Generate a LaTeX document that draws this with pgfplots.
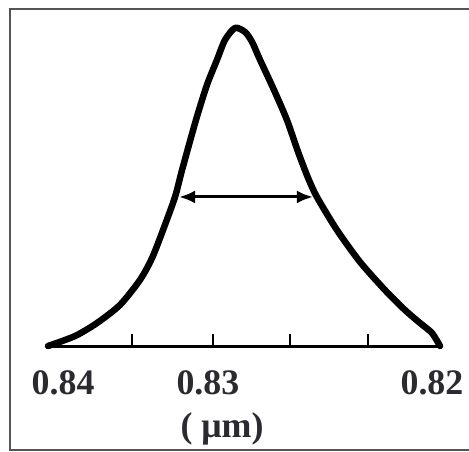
\documentclass[border=0pt]{standalone}
\usepackage{pgfplots}
\pgfplotsset{compat=1.18}
\usepackage{fontspec}
\setmainfont{Liberation Serif}
\usetikzlibrary{arrows.meta}
\definecolor{framegray}{HTML}{555555}
\definecolor{txt}{HTML}{2A2A30}
\begin{document}
\begin{tikzpicture}[x=1bp,y=1bp]
\useasboundingbox (0,0) rectangle (469,-452);
\draw[framegray, line width=2.5bp] (472,-9) -- (10,-9) -- (10,-450) -- (472,-450);
\begin{axis}[at={(48bp,-346bp)}, anchor=south west, scale only axis,
  width=392bp, height=326bp,
  xmin=0.82, xmax=0.84, x dir=reverse, ymin=0, ymax=1.025,
  axis x line=bottom, axis y line=none,
  axis line style={-, line width=3bp, black},
  xtick={0.83923,0.83184,0.82041}, xticklabels={0.84,0.83,0.82},
  major tick length=0pt,
  minor xtick={0.835714,0.831582,0.827653,0.823673},
  minor tick length=12bp, xtick align=inside,
  minor tick style={line width=2bp, black},
  xticklabel style={font=\fontsize{36}{40}\selectfont\bfseries, text=txt, anchor=north, inner sep=0pt, yshift=-24bp},
  xlabel={( μm)},
  xlabel style={at={(axis description cs:0.444,0)}, anchor=north, inner sep=0pt, yshift=-66bp, font=\fontsize{36}{40}\selectfont\bfseries, text=txt},
  clip=false]
\addplot[black, line width=6.5bp, smooth, tension=0.45, line join=round, line cap=round] coordinates {
(0.84,0) (0.83862,0.0314) (0.8375,0.0723) (0.83633,0.1289) (0.83531,0.2075)
(0.83469,0.2767) (0.83413,0.3648) (0.83352,0.4686) (0.83316,0.5535) (0.83245,0.7107)
(0.83189,0.8208) (0.83138,0.8994) (0.83097,0.9623) (0.83046,1.0) (0.82995,0.9874)
(0.82959,0.956) (0.82918,0.8994) (0.82847,0.805) (0.82781,0.7107) (0.82724,0.6101)
(0.82673,0.5283) (0.82628,0.4686) (0.82526,0.3648) (0.82408,0.2642) (0.82281,0.1761)
(0.82179,0.1132) (0.82102,0.0723) (0.82041,0.0409) (0.82,0)
};
\addplot[black, line width=3bp, {Latex[length=16bp,width=13bp]}-{Latex[length=16bp,width=13bp]}, shorten <=4bp, shorten >=4bp] coordinates {(0.83352,0.4686) (0.82628,0.4686)};
\end{axis}
\end{tikzpicture}
\end{document}
